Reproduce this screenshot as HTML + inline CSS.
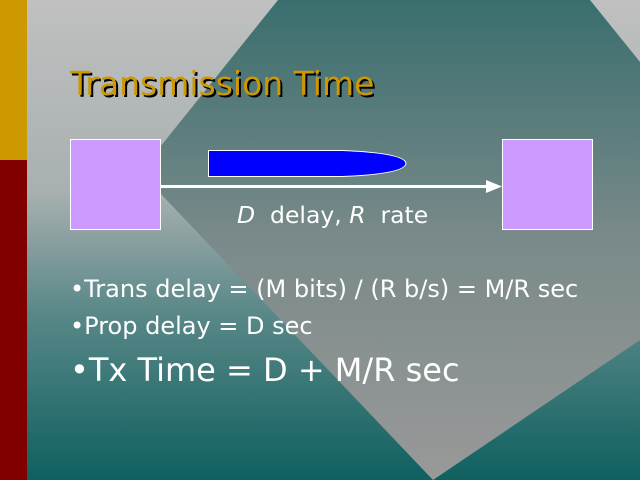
<!DOCTYPE html>
<html><head><style>
body{margin:0;width:640px;height:480px;overflow:hidden;position:relative;font-family:"DejaVu Sans","Liberation Sans",sans-serif;}
svg{position:absolute;left:0;top:0}
.t{position:absolute;white-space:nowrap;color:#fff}
</style></head><body>
<svg width="640" height="480">
<defs>
<linearGradient id="bg" x1="0" y1="0" x2="0" y2="1">
<stop offset="0" stop-color="#c0c0c0"/><stop offset="0.4" stop-color="#a8b0b0"/><stop offset="0.65" stop-color="#5a8888"/><stop offset="1" stop-color="#0f6060"/></linearGradient>
<linearGradient id="dm" x1="0" y1="0" x2="0" y2="1">
<stop offset="0" stop-color="#3a6e6e"/><stop offset="0.5" stop-color="#7a8a8a"/><stop offset="1" stop-color="#999999"/></linearGradient>
</defs>
<rect width="640" height="480" fill="url(#bg)"/>
<polygon points="278,0 590,0 640,62 640,340 433,480 140,172" fill="url(#dm)"/>
<rect x="0" y="0" width="27" height="160" fill="#cc9900"/>
<rect x="0" y="160" width="27" height="320" fill="#800000"/>
<rect x="70.5" y="139.5" width="90" height="90" fill="#cc99ff" stroke="#fff"/>
<rect x="502.5" y="139.5" width="90" height="90" fill="#cc99ff" stroke="#fff"/>
<path d="M208.5,150.5 H342 Q405,153 406,163.5 Q405,174 342,176.5 H208.5 Z" fill="#0000ff" stroke="#fff"/>
<line x1="161" y1="186.5" x2="488" y2="186.5" stroke="#fff" stroke-width="3"/>
<polygon points="486,180 502,186.5 486,193" fill="#fff"/>
</svg>
<div class="t" style="left:70px;top:64px;font-size:33px;color:#cc9900;text-shadow:2px 2px 0 #000">Transmission Time</div>
<div class="t" style="left:237px;top:201px;font-size:23.5px"><i>D</i>&nbsp; delay, <i>R</i>&nbsp; rate</div>
<div class="t" style="left:70px;top:275px;font-size:24px">•Trans delay = (M bits) / (R b/s) = M/R sec</div>
<div class="t" style="left:70px;top:312px;font-size:24px">•Prop delay = D sec</div>
<div class="t" style="left:70px;top:351px;font-size:32px">•Tx Time = D + M/R sec</div>
</body></html>
